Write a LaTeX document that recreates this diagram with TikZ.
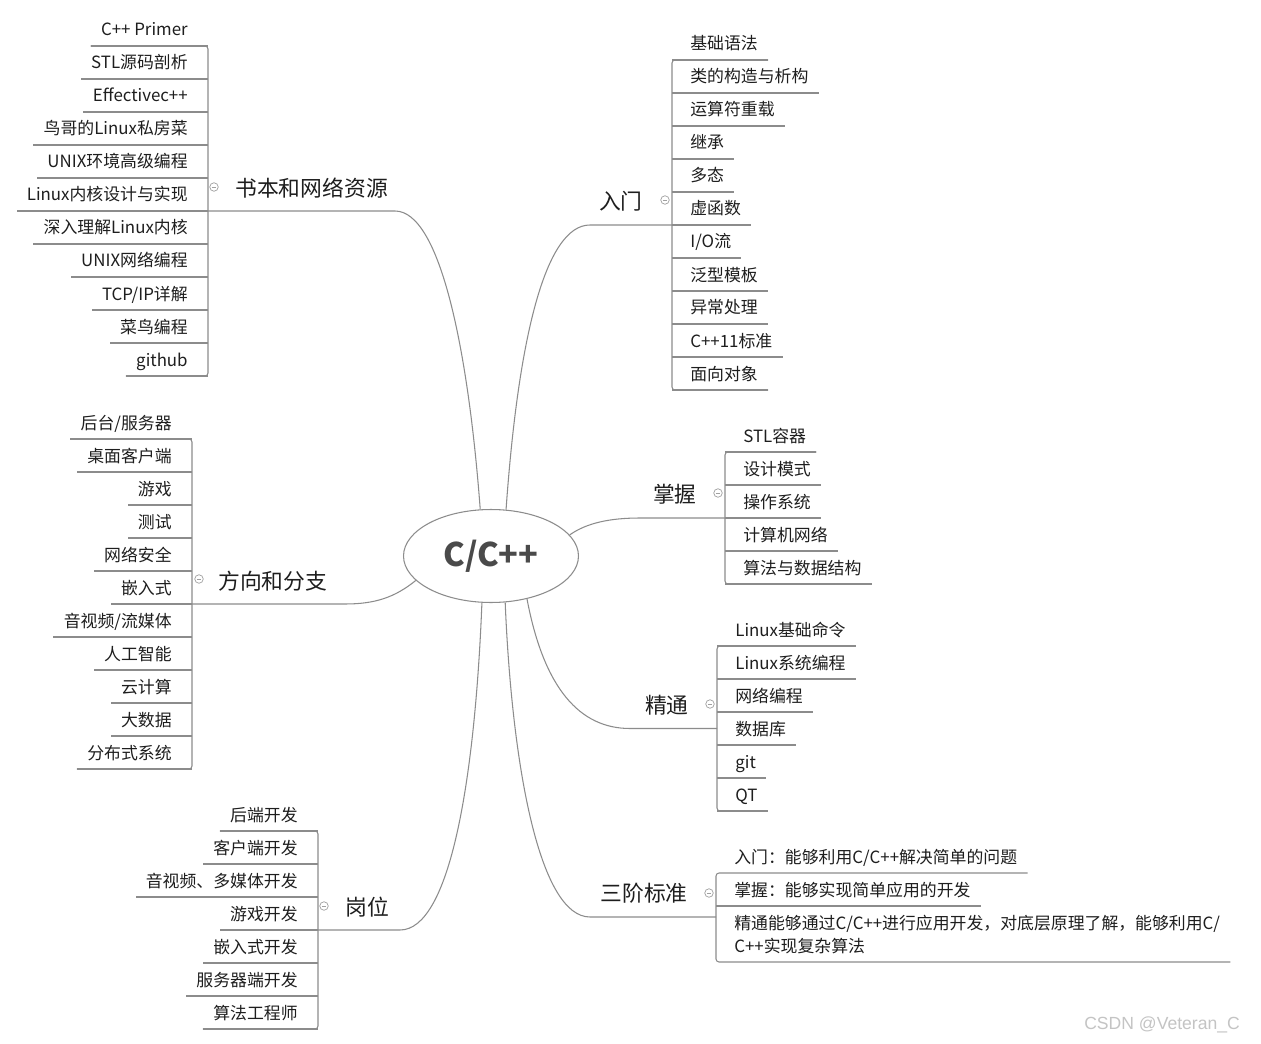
\documentclass[tikz,border=0pt]{standalone}
\usepackage{fontspec}
\setmainfont{Noto Sans CJK SC}
\newfontfamily\markfont{Liberation Sans}
\usetikzlibrary{shapes.geometric}
\definecolor{linegray}{HTML}{8C8C8C}
\definecolor{foldgray}{HTML}{A0A0A0}
\definecolor{txtdark}{HTML}{1E1E1E}
\definecolor{rootgray}{HTML}{4A4A4A}
\definecolor{markgray}{HTML}{C4C4C4}

\begin{document}
\begin{tikzpicture}[
  x=0.02cm, y=-0.02cm,
  link/.style={draw=linegray, line width=0.6pt},
  bar/.style={link, rounded corners=0.06cm},
  leafL/.style={anchor=base east, inner xsep=0.2cm, inner ysep=0pt,
    font=\fontsize{9.6}{13}\selectfont, text=txtdark},
  leafR/.style={leafL, anchor=base west},
  branch/.style={inner sep=0pt, font=\fontsize{12.4}{15}\selectfont, text=txtdark},
  fold/.style={circle, draw=foldgray, line width=0.4pt, minimum size=0.17cm,
    inner sep=0pt, path picture={\draw[foldgray, line width=0.4pt]
      ([xshift=-0.045cm]path picture bounding box.center) --
      ([xshift=0.045cm]path picture bounding box.center);}},
  centre/.style={ellipse, draw=linegray, fill=white, line width=0.6pt,
    minimum width=3.5cm, minimum height=1.86cm,
    font=\fontsize{18.5}{22}\selectfont\bfseries, text=rootgray},
]

% Background
\fill[white] (0,0) rectangle (1261,1044);

% Centre
\node[centre] (cpp) at (491,556) {C/C++};

% === Left: books ===
\foreach \lbl [count=\i] in {C++ Primer, STL源码剖析, Effectivec++, 鸟哥的Linux私房菜,
    UNIX环境高级编程, Linux内核设计与实现, 深入理解Linux内核, UNIX网络编程,
    TCP/IP详解, 菜鸟编程, github} {
  \coordinate (bk\i) at (208,{46+33*(\i-1)});
  \node[leafL] (bkt\i) at (198,{36+33*(\i-1)}) {\lbl};
  \draw[link] (bk\i) -- (bkt\i.west |- bk\i);
}
\draw[bar] (bkt1.west |- bk1) -- (bk1) -- (bk11) -- (bkt11.west |- bk11);
\node[branch, anchor=west] (books) at (235,188) {书本和网络资源};
\node[fold] (bkf) at (214,187) {};
\coordinate (bkm) at (208,211);
\draw[link] (bkm) -- ++(187,0) .. controls +(45,0) and +(-12,-160) .. (cpp.103);

% === Left: directions ===
\foreach \lbl [count=\i] in {后台/服务器, 桌面客户端, 游戏, 测试, 网络安全, 嵌入式,
    音视频/流媒体, 人工智能, 云计算, 大数据, 分布式系统} {
  \coordinate (dr\i) at (192,{439+33*(\i-1)});
  \node[leafL] (drt\i) at (182,{429+33*(\i-1)}) {\lbl};
  \draw[link] (dr\i) -- (drt\i.west |- dr\i);
}
\draw[bar] (drt1.west |- dr1) -- (dr1) -- (dr11) -- (drt11.west |- dr11);
\node[branch, anchor=west] (dirs) at (218,581) {方向和分支};
\node[fold] (drf) at (199,579) {};
\coordinate (drm) at (192,604);
\draw[link] (drm) -- ++(153,0) .. controls +(30,0) and +(-21,17) .. (cpp.198);

% === Left: jobs ===
\foreach \lbl [count=\i] in {后端开发, 客户端开发, 音视频、多媒体开发, 游戏开发,
    嵌入式开发, 服务器端开发, 算法工程师} {
  \coordinate (jb\i) at (318,{831+33*(\i-1)});
  \node[leafL] (jbt\i) at (308,{821+33*(\i-1)}) {\lbl};
  \draw[link] (jb\i) -- (jbt\i.west |- jb\i);
}
\draw[bar] (jbt1.west |- jb1) -- (jb1) -- (jb7) -- (jbt7.west |- jb7);
\node[branch, anchor=west] (jobs) at (345,907) {岗位};
\node[fold] (jbf) at (324,906) {};
\coordinate (jbm) at (318,930);
\draw[link] (jbm) -- ++(82,0) .. controls +(50,0) and +(-7,177) .. (cpp.259);

% === Right: intro ===
\foreach \lbl [count=\i] in {基础语法, 类的构造与析构, 运算符重载, 继承, 多态, 虚函数,
    I/O流, 泛型模板, 异常处理, C++11标准, 面向对象} {
  \coordinate (in\i) at (672,{60+33*(\i-1)});
  \node[leafR] (int\i) at (680,{50+33*(\i-1)}) {\lbl};
  \draw[link] (in\i) -- (int\i.east |- in\i);
}
\draw[bar] (int1.east |- in1) -- (in1) -- (in11) -- (int11.east |- in11);
\node[branch, anchor=east] (intro) at (643,201) {入门};
\node[fold] (inf) at (665,200) {};
\coordinate (inm) at (672,225);
\draw[link] (inm) -- ++(-82,0) .. controls +(-45,0) and +(12,-170) .. (cpp.72);

% === Right: master ===
\foreach \lbl [count=\i] in {STL容器, 设计模式, 操作系统, 计算机网络, 算法与数据结构} {
  \coordinate (ms\i) at (725,{452+33*(\i-1)});
  \node[leafR] (mst\i) at (733,{442+33*(\i-1)}) {\lbl};
  \draw[link] (ms\i) -- (mst\i.east |- ms\i);
}
\draw[bar] (mst1.east |- ms1) -- (ms1) -- (ms5) -- (mst5.east |- ms5);
\node[branch, anchor=east] (master) at (697,494) {掌握};
\node[fold] (msf) at (718,493) {};
\coordinate (msm) at (725,518);
\draw[link] (msm) -- ++(-85,0) .. controls +(-30,0) and +(17,-12) .. (cpp.15);

% === Right: expert ===
\foreach \lbl [count=\i] in {Linux基础命令, Linux系统编程, 网络编程, 数据库, git, QT} {
  \coordinate (ex\i) at (717,{646+33*(\i-1)});
  \node[leafR] (ext\i) at (725,{636+33*(\i-1)}) {\lbl};
  \draw[link] (ex\i) -- (ext\i.east |- ex\i);
}
\draw[bar] (ext1.east |- ex1) -- (ex1) -- (ex6) -- (ext6.east |- ex6);
\node[branch, anchor=east] (expert) at (689,705) {精通};
\node[fold] (exf) at (710,704) {};
\coordinate (exm) at (717,728.5);
\draw[link] (exm) -- ++(-87,0) .. controls +(-50,0) and +(17,90) .. (cpp.310);

% === Right: three stages ===
\coordinate (st1) at (716,873);
\coordinate (st2) at (716,906);
\coordinate (st3) at (716,962);
\node[leafR] (stt1) at (724,863) {入门：能够利用C/C++解决简单的问题};
\node[leafR] (stt2) at (724,896) {掌握：能够实现简单应用的开发};
\node[leafR, align=left] (stt3) at (724,952)
  {精通能够通过C/C++进行应用开发，对底层原理了解，能够利用C/\\C++实现复杂算法};
\draw[link] (st2) -- (stt2.east |- st2);
\draw[bar] (stt1.east |- st1) -- (st1) -- (st3) -- (stt3.east |- st3);
\node[branch, anchor=east] (stages) at (688,893) {三阶标准};
\node[fold] (stf) at (709,893) {};
\coordinate (stm) at (716,917);
\draw[link] (stm) -- ++(-126,0) .. controls +(-50,0) and +(7,167) .. (cpp.287);

% Watermark
\node[font=\markfont\fontsize{10}{12}\selectfont, text=markgray, anchor=east] (mark) at (1246,1025) {CSDN @Veteran\_C};

\end{tikzpicture}
\end{document}
